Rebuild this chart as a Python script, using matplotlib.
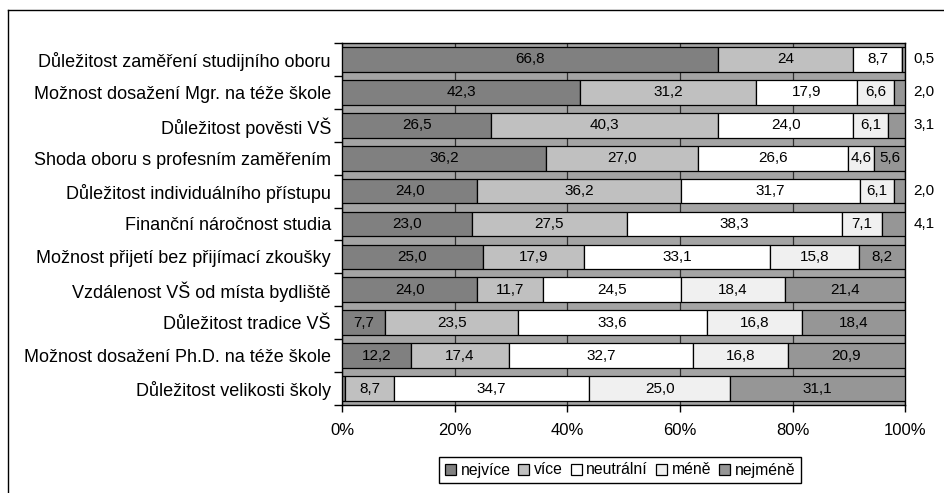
import numpy as np
import matplotlib.pyplot as plt
from matplotlib.lines import Line2D

plt.rcParams['font.family'] = ['Liberation Sans', 'DejaVu Sans']

# Data ---------------------------------------------------------------------------------------------------------------
categories = ['Důležitost zaměření studijního oboru',
              'Možnost dosažení Mgr. na téže škole',
              'Důležitost pověsti VŠ',
              'Shoda oboru s profesním zaměřením',
              'Důležitost individuálního přístupu',
              'Finanční náročnost studia',
              'Možnost přijetí bez přijímací zkoušky',
              'Vzdálenost VŠ od místa bydliště',
              'Důležitost tradice VŠ',
              'Možnost dosažení Ph.D. na téže škole',
              'Důležitost velikosti školy']
nejvice = [66.8, 42.3, 26.5, 36.2, 24.0, 23.0, 25.0, 24.0, 7.7, 12.2, 0.5]
vice = [24.0, 31.2, 40.3, 27.0, 36.2, 27.5, 17.9, 11.7, 23.5, 17.4, 8.7]
neutralni = [8.7, 17.9, 24.0, 26.6, 31.7, 38.3, 33.1, 24.5, 33.6, 32.7, 34.7]
mene = [0.0, 6.6, 6.1, 4.6, 6.1, 7.1, 15.8, 18.4, 16.8, 16.8, 25.0]
nejmene = [0.5, 2.0, 3.1, 5.6, 2.0, 4.1, 8.2, 21.4, 18.4, 20.9, 31.1]
series_names = ['nejvíce', 'více', 'neutrální', 'méně', 'nejméně']
x_ticks = [0, 20, 40, 60, 80, 100]
x_ticklabels = ['0%', '20%', '40%', '60%', '80%', '100%']

colors = ['#808080', '#c0c0c0', '#ffffff', '#f0f0f0', '#969696']

def fmt(v):
    return ('%.1f' % v).replace('.', ',')

# Plot ---------------------------------------------------------------------------------------------------------------
fig = plt.figure(figsize=(9.45, 4.93), dpi=100)
ax = fig.add_axes([0.362, 0.1785, 0.596, 0.7343])
ax.set_facecolor('#a4a4a4')

series = [nejvice, vice, neutralni, mene, nejmene]
n = len(categories)
y = np.arange(n)
left = np.zeros(n)
for s_idx, (vals, col, name) in enumerate(zip(series, colors, series_names)):
    vals = np.array(vals)
    ax.barh(y, vals, left=left, height=0.75, color=col, edgecolor='black',
            linewidth=0.9, label=name, zorder=3)
    for i, v in enumerate(vals):
        if v <= 0:
            continue
        lab = fmt(v)
        if i == 0 and s_idx == 1:
            lab = '24'
        if s_idx == 4 and v < 5:
            ax.text(101.4, y[i], lab, ha='left', va='center', fontsize=11, clip_on=False)
        elif v >= 1:
            ax.text(left[i] + v / 2, y[i], lab, ha='center', va='center', fontsize=11, zorder=4)
    left += vals

ax.set_xlim(0, 100)
ax.set_ylim(n - 0.5, -0.5)
ax.set_xticks(x_ticks)
ax.set_xticklabels(x_ticklabels, fontsize=12)
ax.tick_params(axis='x', direction='out', length=5, width=1, pad=8)
ax.xaxis.grid(True, color='#303030', linewidth=0.9, zorder=1)
ax.set_axisbelow(True)

ax.set_yticks(np.arange(n + 1) - 0.5)
ax.set_yticklabels([])
ax.tick_params(axis='y', which='major', direction='out', length=6, width=1)
ax.set_yticks(y, minor=True)
ax.set_yticklabels(categories, minor=True, fontsize=13)
ax.tick_params(axis='y', which='minor', length=0, pad=8)

for sp in ax.spines.values():
    sp.set_color('black')
    sp.set_linewidth(1)

ax.legend(loc='center', bbox_to_anchor=(620 / 945, 1 - 470 / 493), bbox_transform=fig.transFigure,
          ncol=5, fontsize=11.3, frameon=True, fancybox=False, edgecolor='black', framealpha=1,
          handlelength=0.7, handleheight=0.7, handletextpad=0.3, columnspacing=0.5,
          borderpad=0.35, borderaxespad=0)

# outer frame of the chart
fig.add_artist(Line2D([8 / 945, 8 / 945], [0, 1 - 10 / 493], color='black', linewidth=1))
fig.add_artist(Line2D([8 / 945, 1], [1 - 10 / 493, 1 - 10 / 493], color='black', linewidth=1))

fig.savefig('out.png', dpi=100)
